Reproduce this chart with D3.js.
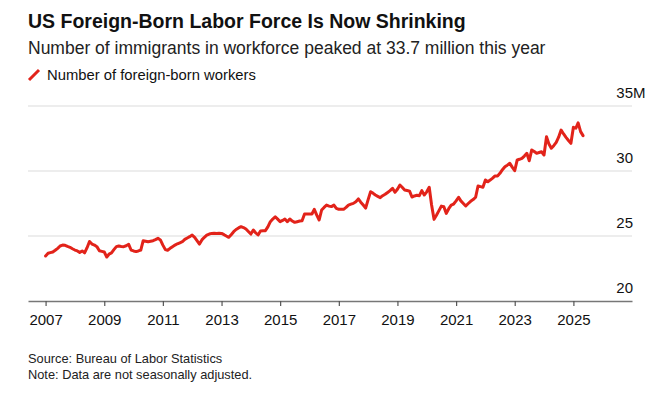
<!DOCTYPE html>
<html>
<head>
<meta charset="utf-8">
<script src="https://cdn.jsdelivr.net/npm/d3@7"></script>
<style>
  body { margin: 0; background: #fff; }
  svg text { font-family: "Liberation Sans", Arial, sans-serif; fill: #111; }
</style>
</head>
<body>
<div id="chart"></div>
<script>

// Foreign-born workers, millions, monthly from Jan 2007
var startYear = 2007;
var workers = [
  // 2007
  23.46, 23.67, 23.72, 23.77, 23.90, 24.05, 24.23, 24.30, 24.28, 24.20, 24.13, 24.02,
  // 2008
  23.92, 23.85, 23.74, 23.85, 23.70, 24.10, 24.58, 24.38, 24.30, 24.18, 23.87, 23.82,
  // 2009
  23.77, 23.38, 23.60, 23.70, 23.95, 24.18, 24.23, 24.20, 24.18, 24.25, 24.36, 23.92,
  // 2010
  23.85, 23.80, 23.85, 23.92, 24.64, 24.60, 24.56, 24.60, 24.64, 24.72, 24.82, 24.70,
  // 2011
  24.30, 23.95, 23.90, 24.05, 24.18, 24.30, 24.40, 24.48, 24.56, 24.74, 24.85, 24.95,
  // 2012
  25.07, 24.90, 24.65, 24.38, 24.70, 24.90, 25.07, 25.15, 25.20, 25.22, 25.20, 25.22,
  // 2013
  25.20, 25.10, 25.00, 24.90, 25.10, 25.33, 25.50, 25.62, 25.72, 25.65, 25.54, 25.35,
  // 2014
  25.15, 25.46, 25.25, 25.08, 25.38, 25.40, 25.41, 25.70, 26.10, 26.30, 26.48, 26.30,
  // 2015
  26.10, 26.20, 26.31, 26.10, 26.31, 26.15, 26.05, 26.10, 26.15, 26.18, 26.69, 26.70,
  // 2016
  26.69, 26.69, 27.05, 26.60, 26.23, 27.00, 27.20, 27.38, 27.30, 27.26, 27.38, 27.13,
  // 2017
  27.05, 27.05, 27.05, 27.20, 27.38, 27.45, 27.51, 27.64, 27.85, 27.60, 27.38, 27.15,
  // 2018
  27.80, 28.41, 28.30, 28.15, 28.05, 27.95, 28.10, 28.21, 28.35, 28.49, 28.67, 28.36,
  // 2019
  28.60, 28.92, 28.75, 28.54, 28.50, 28.45, 28.00, 28.08, 28.13, 28.10, 28.49, 28.15,
  // 2020
  28.40, 28.75, 27.40, 26.28, 26.60, 26.95, 27.30, 27.25, 26.74, 27.10, 27.38, 27.46,
  // 2021
  27.70, 27.98, 27.70, 27.50, 27.31, 27.50, 27.67, 27.80, 27.98, 28.85, 28.80, 28.75,
  // 2022
  29.31, 29.18, 29.30, 29.45, 29.62, 29.62, 29.82, 30.10, 30.33, 30.45, 30.59, 30.30,
  // 2023
  30.02, 30.85, 30.90, 30.97, 31.15, 31.36, 30.79, 31.62, 31.50, 31.36, 31.42, 31.48,
  // 2024
  31.23, 32.64, 32.10, 31.75, 31.95, 32.20, 32.60, 33.15, 32.85, 32.59, 32.35, 32.13,
  // 2025
  33.36, 33.30, 33.70, 33.03, 32.72
];

var yTicks = [20, 25, 30, 35];
var xTickYears = [2007, 2009, 2011, 2013, 2015, 2017, 2019, 2021, 2023, 2025];

var title = "US Foreign-Born Labor Force Is Now Shrinking";
var subtitle = "Number of immigrants in workforce peaked at 33.7 million this year";
var legendLabel = "Number of foreign-born workers";
var notes = ["Source: Bureau of Labor Statistics", "Note: Data are not seasonally adjusted."];

var lineColor = "#e2231a";

var width = 662, height = 393;
var plot = {left: 28, right: 632, top: 106, bottom: 301};

var svg = d3.select("#chart").append("svg")
    .attr("width", width)
    .attr("height", height);

// header
svg.append("text")
    .attr("x", 28).attr("y", 28)
    .style("font-size", "19.5px")
    .style("font-weight", "bold")
    .text(title);

svg.append("text")
    .attr("x", 28).attr("y", 54)
    .style("font-size", "17.5px")
    .style("fill", "#222")
    .text(subtitle);

// legend
svg.append("line")
    .attr("x1", 29).attr("y1", 80)
    .attr("x2", 39).attr("y2", 70)
    .attr("stroke", lineColor)
    .attr("stroke-width", 3);

svg.append("text")
    .attr("x", 47).attr("y", 80)
    .style("font-size", "14.8px")
    .text(legendLabel);

// scales
var data = workers.map(function(v, i) {
    return {date: new Date(startYear, i, 1), value: v};
});

var x = d3.scaleTime()
    .domain([new Date(2006, 4, 27), new Date(2027, 0, 1)])
    .range([plot.left, plot.right]);

var y = d3.scaleLinear()
    .domain([20, 35])
    .range([plot.bottom, plot.top]);

// gridlines (the 20 line is drawn by the axis)
svg.append("g").selectAll("line")
    .data(yTicks.filter(function(d) { return d > 20; }))
    .enter().append("line")
    .attr("x1", plot.left).attr("x2", plot.right)
    .attr("y1", function(d) { return y(d); })
    .attr("y2", function(d) { return y(d); })
    .attr("stroke", "#dcdcdc")
    .attr("stroke-width", 1.2);

// y labels sit above their gridline, right side
var yLab = svg.append("g");
yLab.selectAll("text")
    .data(yTicks)
    .enter().append("text")
    .attr("x", 633)
    .attr("y", function(d) { return y(d) - 8; })
    .attr("text-anchor", "end")
    .style("font-size", "15px")
    .text(function(d) { return d; });

yLab.append("text")
    .attr("x", 633)
    .attr("y", y(35) - 8)
    .style("font-size", "15px")
    .text("M");

// x axis
var xAxis = d3.axisBottom(x)
    .tickValues(xTickYears.map(function(yr) { return new Date(yr, 0, 1); }))
    .tickFormat(d3.timeFormat("%Y"))
    .tickSize(5)
    .tickSizeOuter(0)
    .tickPadding(8);

var gx = svg.append("g")
    .attr("transform", "translate(0," + plot.bottom + ")")
    .call(xAxis);

gx.select(".domain").attr("stroke", "#777").attr("stroke-width", 1.5);
gx.selectAll(".tick line").attr("stroke", "#555").attr("stroke-width", 1.2);
gx.selectAll(".tick text")
    .style("font-size", "15px")
    .style("font-family", "Liberation Sans, Arial, sans-serif")
    .attr("fill", "#111");

// the line
var line = d3.line()
    .x(function(d) { return x(d.date); })
    .y(function(d) { return y(d.value); });

svg.append("path")
    .datum(data)
    .attr("d", line)
    .attr("fill", "none")
    .attr("stroke", lineColor)
    .attr("stroke-width", 3)
    .attr("stroke-linejoin", "round")
    .attr("stroke-linecap", "round");

// footer
svg.append("g").selectAll("text")
    .data(notes)
    .enter().append("text")
    .attr("x", 28)
    .attr("y", function(d, i) { return 363 + i * 16; })
    .style("font-size", "12.8px")
    .style("fill", "#222")
    .text(function(d) { return d; });

</script>
</body>
</html>
